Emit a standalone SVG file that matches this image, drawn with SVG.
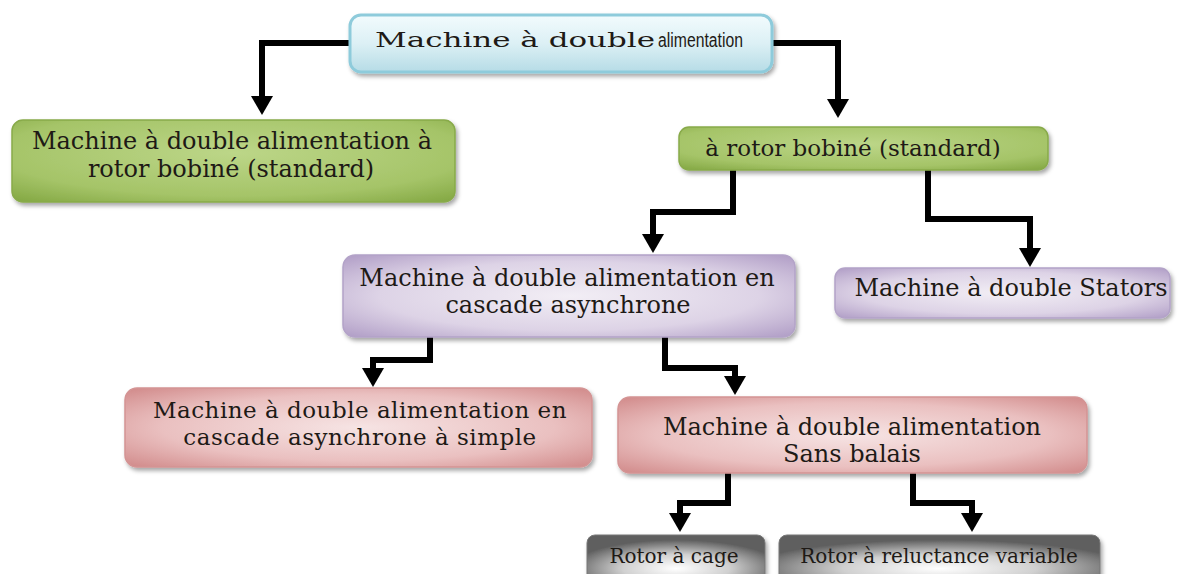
<svg xmlns="http://www.w3.org/2000/svg" width="1198" height="574" viewBox="0 0 1198 574">
<defs>
  <linearGradient id="gBlue" x1="0" y1="0" x2="0" y2="1">
    <stop offset="0" stop-color="#f2fbfd"/>
    <stop offset="0.5" stop-color="#dcf0f5"/>
    <stop offset="1" stop-color="#b6dce6"/>
  </linearGradient>
  <radialGradient id="gGreen" cx="0.5" cy="0.4" r="0.75">
    <stop offset="0" stop-color="#bcd688"/>
    <stop offset="0.7" stop-color="#a5c468"/>
    <stop offset="1" stop-color="#86aa46"/>
  </radialGradient>
  <radialGradient id="gPurple" cx="0.5" cy="0.5" r="0.7">
    <stop offset="0" stop-color="#f2eef5"/>
    <stop offset="0.6" stop-color="#ddd3e6"/>
    <stop offset="1" stop-color="#b09dc6"/>
  </radialGradient>
  <radialGradient id="gRed" cx="0.5" cy="0.5" r="0.7">
    <stop offset="0" stop-color="#f6e4e4"/>
    <stop offset="0.6" stop-color="#eac0c0"/>
    <stop offset="1" stop-color="#d18a8a"/>
  </radialGradient>
  <radialGradient id="gGray" cx="0.5" cy="0.7" r="0.6">
    <stop offset="0" stop-color="#ffffff"/>
    <stop offset="0.5" stop-color="#d0d0d0"/>
    <stop offset="1" stop-color="#5e5e5e"/>
  </radialGradient>
  <filter id="shadow" x="-10%" y="-20%" width="120%" height="150%">
    <feDropShadow dx="2" dy="3" stdDeviation="2" flood-color="#000" flood-opacity="0.35"/>
  </filter>
  <marker id="arrow" markerUnits="userSpaceOnUse" markerWidth="19" markerHeight="23" viewBox="-1 -11.5 19 23" refX="0" refY="0" orient="auto">
    <path d="M-1,-11 L18,0 L-1,11 z" fill="#000"/>
  </marker>
  <style>
    .lbl { font-family: "DejaVu Serif", "Liberation Serif", serif; font-size: 24px; fill: #1e1a16; text-anchor: middle; }
    .sm { font-size: 20px; }
    .conn { fill: none; stroke: #000; stroke-width: 6; stroke-linejoin: miter; marker-end: url(#arrow); }
    .box { filter: url(#shadow); }
  </style>
</defs>

<g id="connectors">
  <polyline class="conn" points="350,43 262,43 262,97"/>
  <polyline class="conn" points="772,43 838,43 838,100"/>
  <polyline class="conn" points="733,170 733,212 653,212 653,235"/>
  <polyline class="conn" points="928,170 928,219 1030,219 1030,249"/>
  <polyline class="conn" points="430,337 430,360 373,360 373,369"/>
  <polyline class="conn" points="665,337 665,368 735,368 735,377"/>
  <polyline class="conn" points="728,473 728,503 680,503 680,514"/>
  <polyline class="conn" points="913,473 913,503 972,503 972,514"/>
</g>

<g id="n1">
  <rect class="box" x="350" y="15" width="422" height="57" rx="11" fill="url(#gBlue)" stroke="#8ecbdb" stroke-width="3"/>
  <text x="375" y="47" font-family="DejaVu Serif, Liberation Serif, serif" font-size="21" fill="#1e1a16"><tspan textLength="280" lengthAdjust="spacingAndGlyphs">Machine à double</tspan><tspan x="658" font-family="Liberation Sans, Arial, sans-serif" font-size="20" textLength="85" lengthAdjust="spacingAndGlyphs">alimentation</tspan></text>
</g>

<g id="n2">
  <rect class="box" x="12" y="120" width="443" height="82" rx="11" fill="url(#gGreen)" stroke="#88aa4a" stroke-width="1.5"/>
  <text class="lbl" x="232" y="149">Machine à double alimentation à</text>
  <text class="lbl" x="231" y="177">rotor bobiné (standard)</text>
</g>

<g id="n3">
  <rect class="box" x="679" y="127" width="369" height="43" rx="10" fill="url(#gGreen)" stroke="#88aa4a" stroke-width="1.5"/>
  <text class="lbl" x="853" y="156" style="font-size:23px">à rotor bobiné (standard)</text>
</g>

<g id="n4">
  <rect class="box" x="343" y="255" width="452" height="82" rx="12" fill="url(#gPurple)" stroke="#b3a3c8" stroke-width="1.5"/>
  <text class="lbl" x="567" y="286">Machine à double alimentation en</text>
  <text class="lbl" x="568" y="313">cascade asynchrone</text>
</g>

<g id="n5">
  <rect class="box" x="835" y="268" width="335" height="50" rx="10" fill="url(#gPurple)" stroke="#b3a3c8" stroke-width="1.5"/>
  <text class="lbl" x="1011" y="296">Machine à double Stators</text>
</g>

<g id="n6">
  <rect class="box" x="125" y="388" width="467" height="79" rx="12" fill="url(#gRed)" stroke="#d49494" stroke-width="1.5"/>
  <text class="lbl" x="360" y="418" style="font-size:23px;letter-spacing:0.5px">Machine à double alimentation en</text>
  <text class="lbl" x="360" y="445" style="font-size:23px;letter-spacing:0.5px">cascade asynchrone à simple</text>
</g>

<g id="n7">
  <rect class="box" x="618" y="397" width="469" height="76" rx="12" fill="url(#gRed)" stroke="#d49494" stroke-width="1.5"/>
  <text class="lbl" x="852" y="435">Machine à double alimentation</text>
  <text class="lbl" x="852" y="462">Sans balais</text>
</g>

<g id="n8">
  <rect class="box" x="587" y="535" width="178" height="48" rx="8" fill="url(#gGray)" stroke="#777" stroke-width="1"/>
  <text class="lbl sm" x="674" y="563">Rotor à cage</text>
</g>

<g id="n9">
  <rect class="box" x="779" y="535" width="321" height="48" rx="8" fill="url(#gGray)" stroke="#777" stroke-width="1"/>
  <text class="lbl sm" x="939" y="563">Rotor à reluctance variable</text>
</g>
</svg>
